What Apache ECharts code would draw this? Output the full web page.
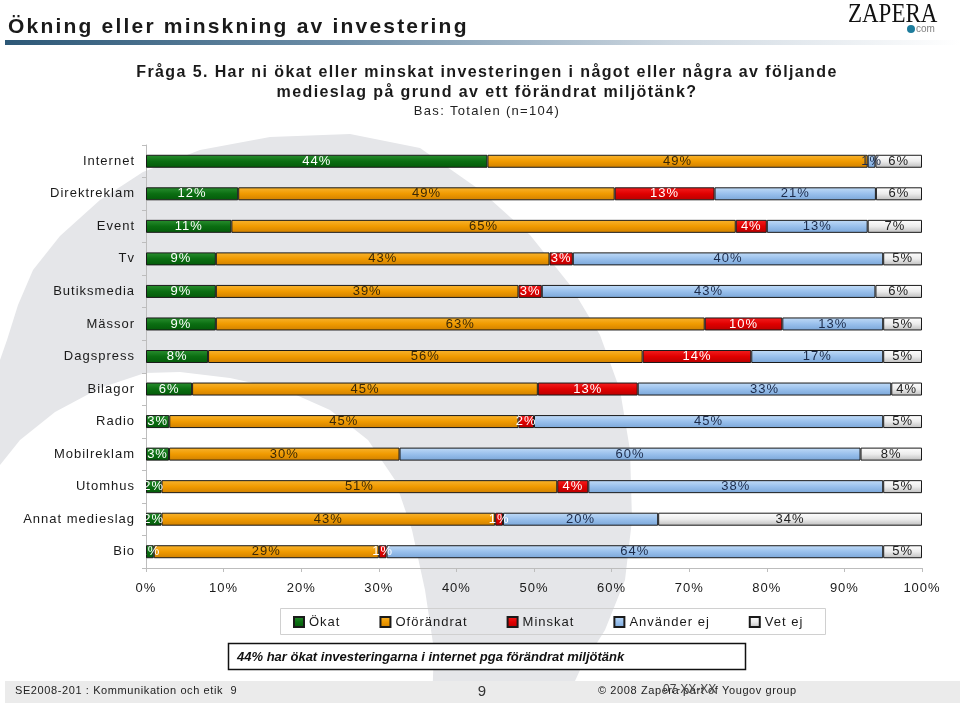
<!DOCTYPE html>
<html>
<head>
<meta charset="utf-8">
<script src="https://cdn.jsdelivr.net/npm/echarts@6/dist/echarts.min.js"></script>
<style>
html,body{margin:0;padding:0;background:#fff;}
#chart{width:960px;height:703px;}
</style>
</head>
<body>
<div id="chart"></div>
<script>
// letter spacing helper: fonts tagged with "zlsNN" get NN/10 px letter spacing
(function(){
  var P = CanvasRenderingContext2D.prototype;
  if (!('letterSpacing' in P)) return;
  var ft = P.fillText, st = P.strokeText, mt = P.measureText;
  function apply(ctx){
    var m = /zls(\d+)/.exec(ctx.font);
    ctx.letterSpacing = m ? (parseInt(m[1], 10) / 10) + 'px' : '0px';
  }
  P.fillText = function(){ apply(this); return ft.apply(this, arguments); };
  P.strokeText = function(){ apply(this); return st.apply(this, arguments); };
  P.measureText = function(){ apply(this); return mt.apply(this, arguments); };
})();

// ---- data ----
var categories = ['Internet','Direktreklam','Event','Tv','Butiksmedia','Mässor','Dagspress','Bilagor','Radio','Mobilreklam','Utomhus','Annat medieslag','Bio'];
var okat       = [44,12,11, 9, 9, 9, 8, 6, 3, 3, 2, 2, 1];
var oforandrat = [49,49,65,43,39,63,56,45,45,30,51,43,29];
var minskat    = [ 0,13, 4, 3, 3,10,14,13, 2, 0, 4, 1, 1];
var anvanderEj = [ 1,21,13,40,43,13,17,33,45,60,38,20,64];
var vetEj      = [ 6, 6, 7, 5, 6, 5, 5, 4, 5, 8, 5,34, 5];
var seriesNames = ['Ökat','Oförändrat','Minskat','Använder ej','Vet ej'];
var xTickLabels = ['0%','10%','20%','30%','40%','50%','60%','70%','80%','90%','100%'];

var raw = [okat, oforandrat, minskat, anvanderEj, vetEj];
var totals = categories.map(function(c, i){
  return raw.reduce(function(s, arr){ return s + arr[i]; }, 0);
});

function grad(stops){
  return {type:'linear', x:0, y:0, x2:0, y2:1, colorStops: stops.map(function(c, i){ return {offset: i/(stops.length-1), color: c}; })};
}
var fills = [
  grad(['#2a9030','#0b6e12','#035a09']),
  grad(['#f8b430','#f09a00','#cf8000']),
  grad(['#f42020','#e00000','#b80000']),
  grad(['#c2dcf7','#99c0ec','#7aa6d8']),
  grad(['#ffffff','#ececec','#bdbdbd'])
];
var labelColors = ['#ffffff','#3a2806','#ffffff','#1c2b4a','#222222'];

var FONT = '"Liberation Sans", Arial, sans-serif';
function ff(ls){ return '"Liberation Sans", Arial, zls' + ls; }

var series = raw.map(function(arr, s){
  return {
    name: seriesNames[s],
    type: 'bar',
    stack: 'total',
    barWidth: 13,
    data: arr.map(function(v, i){ return v === 0 ? '-' : v / totals[i] * 100; }),
    itemStyle: {color: fills[s], borderColor: '#1a1a1a', borderWidth: 1},
    emphasis: {disabled: true},
    label: {
      show: true,
      position: 'inside',
      color: labelColors[s],
      fontSize: 13,
      fontFamily: ff(10),
      formatter: function(p){ var v = arr[p.dataIndex]; return v ? v + '%' : ''; }
    }
  };
});

var watermark = [
  [0,470],[0,360],[7,340],[18,305],[33,270],[60,236],[100,200],[143,172],[200,150],[270,137],[350,134],[420,148],[480,190],[530,235],[570,285],[600,335],[620,390],[630,450],[632,520],[625,580],[605,630],[580,670],[565,703],
  [432,703],[434,650],[425,590],[412,530],[395,480],[368,440],[330,410],[285,390],[230,378],[180,372],[145,373],[100,388],[55,412],[20,440],[0,465]
];

var chart = echarts.init(document.getElementById('chart'), null, {renderer: 'canvas'});
chart.setOption({
  animation: false,
  backgroundColor: '#ffffff',
  grid: {left: 146, right: 38, top: 145, height: 423, containLabel: false},
  xAxis: {
    type: 'value', min: 0, max: 100, interval: 10,
    axisLine: {show: true, lineStyle: {color: '#bdbdbd', width: 1}},
    axisTick: {show: true, length: 4, lineStyle: {color: '#bdbdbd'}},
    splitLine: {show: false},
    axisLabel: {
      color: '#1a1a1a', fontSize: 13, fontFamily: ff(10), margin: 13,
      formatter: function(v){ return xTickLabels[Math.round(v / 10)]; }
    }
  },
  yAxis: {
    type: 'category', inverse: true, data: categories,
    axisLine: {show: true, lineStyle: {color: '#bdbdbd', width: 1}},
    axisTick: {show: true, length: 4, lineStyle: {color: '#bdbdbd'}},
    axisLabel: {color: '#1a1a1a', fontSize: 13, fontFamily: ff(10), margin: 11}
  },
  legend: {
    data: seriesNames,
    left: 293, top: 615, padding: 0,
    icon: 'rect', itemWidth: 10, itemHeight: 10, itemGap: 39,
    textStyle: {color: '#1a1a1a', fontSize: 13, fontFamily: ff(10)},
    selectedMode: false
  },
  series: series,
  graphic: [
    {type: 'polygon', z: -10, silent: true, shape: {points: watermark}, style: {fill: '#e5e6e9'}},
    // header
    {type: 'rect', z: 1, shape: {x: 5, y: 40, width: 955, height: 5},
     style: {fill: {type: 'linear', x: 0, y: 0, x2: 1, y2: 0, colorStops: [
       {offset: 0, color: '#2d5877'}, {offset: 0.35, color: '#6d8ea8'}, {offset: 0.7, color: '#cdd7e0'}, {offset: 1, color: '#ffffff'}]}}},
    {type: 'text', z: 1, x: 8, y: 27, style: {text: 'Ökning eller minskning av investering', font: 'bold 21px ' + ff(22), fill: '#1a1a1a', textVerticalAlign: 'middle'}},
    {type: 'text', z: 1, x: 848, y: 15, scaleX: 0.82, style: {text: 'ZAPERA', font: '28px "Liberation Serif", serif', fill: '#111111', textVerticalAlign: 'middle'}},
    {type: 'circle', z: 1, shape: {cx: 911, cy: 29, r: 4}, style: {fill: '#1d7c9c'}},
    {type: 'text', z: 1, x: 916, y: 29, style: {text: 'com', font: '10px ' + FONT, fill: '#808080', textVerticalAlign: 'middle'}},
    // subtitle
    {type: 'text', z: 1, x: 487, y: 73, style: {text: 'Fråga 5. Har ni ökat eller minskat investeringen i något eller några av följande', font: 'bold 16px ' + ff(14), fill: '#1a1a1a', textAlign: 'center', textVerticalAlign: 'middle'}},
    {type: 'text', z: 1, x: 487, y: 93, style: {text: 'medieslag på grund av ett förändrat miljötänk?', font: 'bold 16px ' + ff(14), fill: '#1a1a1a', textAlign: 'center', textVerticalAlign: 'middle'}},
    {type: 'text', z: 1, x: 487, y: 111, style: {text: 'Bas: Totalen (n=104)', font: '13px ' + ff(13), fill: '#222222', textAlign: 'center', textVerticalAlign: 'middle'}},
    // legend box
    {type: 'rect', z: 1, shape: {x: 280.5, y: 608.5, width: 545, height: 26}, style: {fill: 'rgba(255,255,255,0)', stroke: '#d0d0d0', lineWidth: 1}},
    // note box
    {type: 'rect', z: 1, shape: {x: 228.5, y: 643.5, width: 517, height: 26}, style: {fill: '#ffffff', stroke: '#111111', lineWidth: 1.5}},
    {type: 'text', z: 2, x: 237, y: 657, style: {text: '44% har ökat investeringarna i internet pga förändrat miljötänk', font: 'italic bold 13px ' + FONT, fill: '#111111', textVerticalAlign: 'middle'}},
    // footer
    {type: 'rect', z: 1, shape: {x: 5, y: 681, width: 955, height: 22}, style: {fill: '#ebebeb'}},
    {type: 'text', z: 2, x: 15, y: 691, style: {text: 'SE2008-201 : Kommunikation och etik  9', font: '11px ' + ff(6), fill: '#222222', textVerticalAlign: 'middle'}},
    {type: 'text', z: 2, x: 482, y: 692, style: {text: '9', font: '15px ' + FONT, fill: '#333333', textAlign: 'center', textVerticalAlign: 'middle'}},
    {type: 'text', z: 2, x: 598, y: 691, style: {text: '© 2008 Zapera part of Yougov group', font: '11px ' + ff(6), fill: '#222222', textVerticalAlign: 'middle'}},
    {type: 'text', z: 2, x: 663, y: 690, style: {text: '07-XX-XX', font: '12px ' + FONT, fill: '#444444', textVerticalAlign: 'middle'}}
  ]
});
</script>
</body>
</html>
